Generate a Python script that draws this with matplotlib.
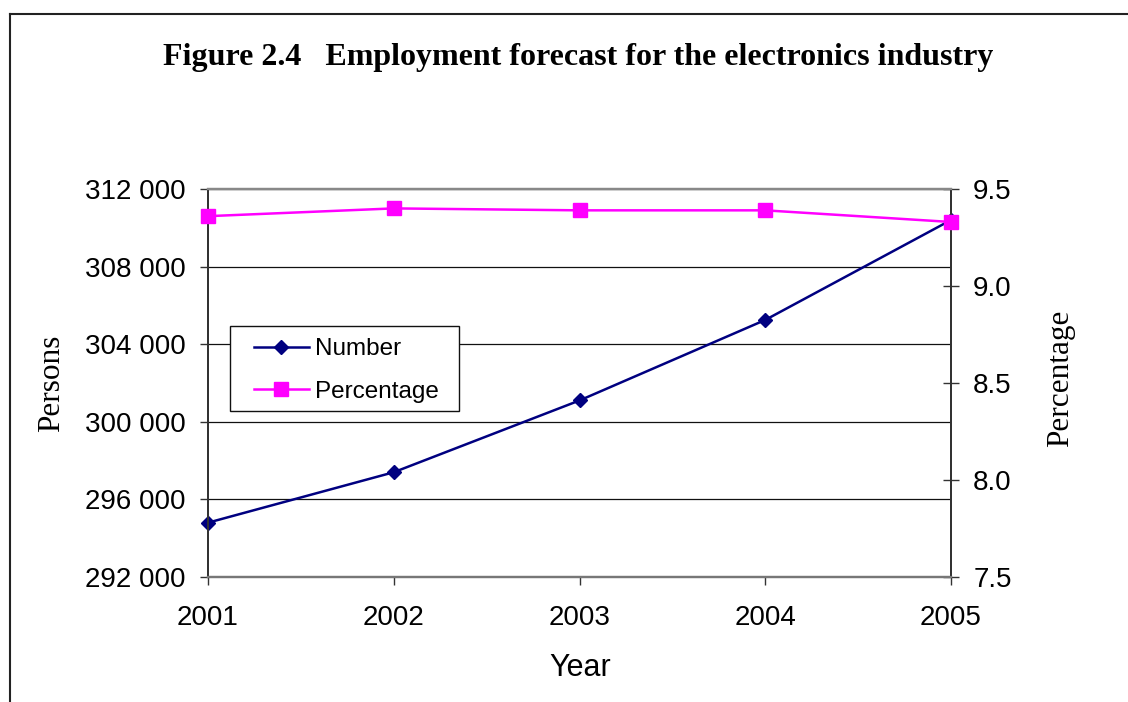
import matplotlib
matplotlib.use('Agg')
import matplotlib.pyplot as plt
from matplotlib.lines import Line2D
from matplotlib.patches import Rectangle
from matplotlib.ticker import FuncFormatter

years = [2001, 2002, 2003, 2004, 2005]
number = [294800, 297400, 301100, 305250, 310400]
percentage = [9.36, 9.40, 9.39, 9.39, 9.33]
title = 'Figure 2.4   Employment forecast for the electronics industry'

NAVY = '#000080'
MAGENTA = '#FF00FF'
SANS = 'Liberation Sans'
SERIF = 'Liberation Serif'

plt.rcParams['font.family'] = SANS

W, H = 1128, 702


def thousands(v, pos):
    return '{:,.0f}'.format(v).replace(',', ' ')


def main():
    fig = plt.figure(figsize=(W / 100, H / 100), dpi=100)
    ax = fig.add_axes([208 / W, 1 - 577 / H, (951 - 208) / W, (577 - 189) / H])
    ax2 = ax.twinx()

    # frame around the whole chart (only top and left are visible)
    fig.add_artist(Line2D([10 / W, 1], [1 - 14 / H, 1 - 14 / H],
                          transform=fig.transFigure, color='#222222', lw=1.5))
    fig.add_artist(Line2D([10 / W, 10 / W], [0, 1 - 14 / H],
                          transform=fig.transFigure, color='#222222', lw=1.5))

    fig.text(578 / W, 1 - 57 / H, title, ha='center', va='center',
             family=SERIF, fontweight='bold', fontsize=23)

    # left axis: persons
    l1, = ax.plot(years, number, color=NAVY, lw=1.8, marker='D', markersize=7.5,
                  clip_on=False, zorder=3, label='Number')
    ax.set_xlim(2001, 2005)
    ax.set_ylim(292000, 312000)
    ax.set_yticks(range(292000, 312001, 4000))
    ax.yaxis.set_major_formatter(FuncFormatter(thousands))
    ax.set_xticks(years)
    ax.grid(axis='y', color='#111111', lw=0.9)
    ax.set_axisbelow(True)

    # right axis: percentage
    l2, = ax2.plot(years, percentage, color=MAGENTA, lw=1.8, marker='s', markersize=9.5,
                   clip_on=False, zorder=4, label='Percentage')
    ax2.set_ylim(7.5, 9.5)
    ax2.set_yticks([7.5, 8.0, 8.5, 9.0, 9.5])
    ax2.yaxis.set_major_formatter(FuncFormatter(lambda v, p: '%.1f' % v))

    for a in (ax, ax2):
        a.spines['top'].set_color('#888888')
        a.spines['bottom'].set_color('#777777')
        a.spines['top'].set_linewidth(1.6)
        a.spines['bottom'].set_linewidth(1.6)
        a.spines['left'].set_color('#333333')
        a.spines['right'].set_color('#333333')
        a.spines['left'].set_linewidth(1.4)
        a.spines['right'].set_linewidth(1.4)

    ax.tick_params(axis='y', direction='out', length=6, width=1, color='#333333',
                   labelsize=20, pad=10)
    ax.tick_params(axis='x', direction='out', length=6, width=1, color='#333333',
                   labelsize=20, pad=14)
    ax2.tick_params(axis='y', direction='inout', length=12, width=1, color='#333333',
                    labelsize=20, pad=10)

    ax.set_ylabel('Persons', family=SERIF, fontsize=22.5, va='center')
    ax.yaxis.set_label_coords((52 - 208) / 743, 0.5)
    ax2.set_ylabel('Percentage', family=SERIF, fontsize=22.5, va='center')
    ax2.yaxis.set_label_coords((1061 - 208) / 743, 0.512)
    ax.set_xlabel('Year', fontsize=22, va='center')
    ax.xaxis.set_label_coords((580 - 208) / 743, (577 - 668) / 388)

    # legend box drawn separately so the inner padding matches the original
    box = Rectangle((230 / W, 1 - 411 / H), (459 - 230) / W, (411 - 326) / H,
                    transform=fig.transFigure, facecolor='white', edgecolor='#111111',
                    lw=1.0, zorder=9, clip_on=False)
    ax2.add_artist(box)
    leg = ax2.legend([l1, l2], ['Number', 'Percentage'], loc='upper left',
                     bbox_to_anchor=(254 / W, 1 - 338 / H),
                     bbox_transform=fig.transFigure, fontsize=17.5, frameon=False,
                     borderpad=0, handlelength=2.26, handletextpad=0.25,
                     labelspacing=0.85, borderaxespad=0)
    leg.set_zorder(10)

    fig.savefig('out.png', dpi=100)


if __name__ == '__main__':
    main()
